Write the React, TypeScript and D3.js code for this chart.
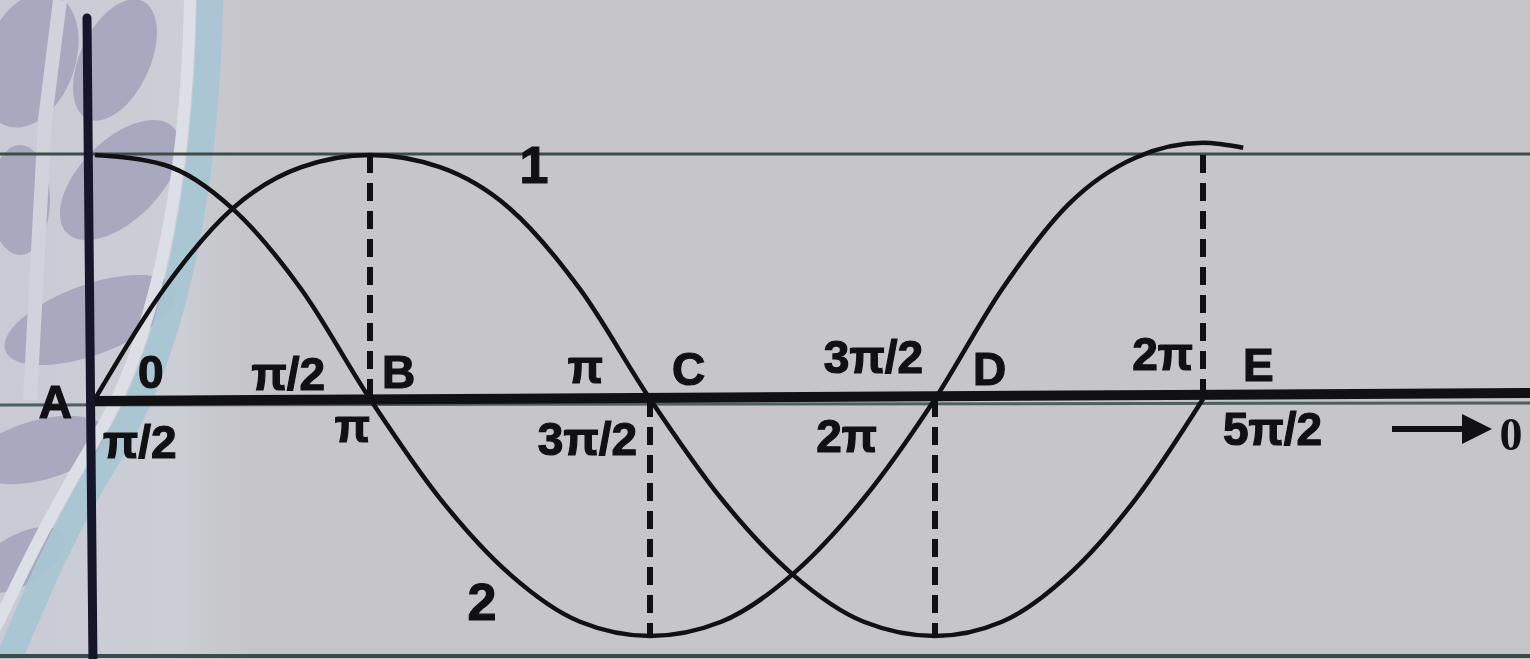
import React from "react";
import * as d3 from "d3";

// ---- data ----
// phase measured in quarter periods (0 = A, 1 = B, 2 = C, 3 = D, 4 = E)
const pointNames = ["A", "B", "C", "D", "E"];
const upperLabels = ["0", "π/2", "π", "3π/2", "2π"];
const lowerLabels = ["π/2", "π", "3π/2", "2π", "5π/2"];

const curve1T = [0, 0.25, 0.5, 0.75, 1, 1.25, 1.5, 1.75, 2, 2.25, 2.5, 2.75, 3, 3.25, 3.5, 3.75, 4];
const curve1V = [0, 0.45, 0.78, 0.95, 1, 0.95, 0.78, 0.45, 0, -0.42, -0.74, -0.94, -1, -0.94, -0.74, -0.42, 0];

const curve2T = [0, 0.25, 0.5, 0.75, 1, 1.25, 1.5, 1.75, 2, 2.25, 2.5, 2.75, 3, 3.25, 3.5, 3.75, 4, 4.15];
const curve2V = [1, 0.96, 0.78, 0.45, 0, -0.42, -0.74, -0.94, -1, -0.94, -0.74, -0.42, 0, 0.45, 0.8, 0.99, 1.05, 1.03];

// dashed projections: [phase, from value, to value]
const dashT = [1, 2, 3, 4];
const dashFrom = [1, 0, 0, 1.0];
const dashTo = [0, -1, -1, 0];

// ---- layout ----
const W = 1530;
const H = 659;
const x = d3.scaleLinear().domain([0, 1, 2, 3, 4]).range([95, 370, 650, 935, 1203]);
const y = d3.scaleLinear().domain([-1, 0, 1]).range([636, 399, 155]);

const upperDx = [43, -45, -47, -12, -10];
const upperAnchor = ["start", "end", "end", "end", "end"];
const upperBase = [388, 390, 383, 373, 370];
const nameDx = [-23, 12, 22, 38, 40];
const nameAnchor = ["end", "start", "start", "start", "start"];
const nameBase = [418, 388, 385, 385, 381];
const lowerDx = [8, 0, -13, -58, 20];
const lowerAnchor = ["start", "end", "end", "end", "start"];
const lowerBase = [458, 442, 455, 452, 445];

const line = d3
  .line<[number, number]>()
  .x((d) => x(d[0]))
  .y((d) => y(d[1]))
  .curve(d3.curveMonotoneX);

const FONT = "'Liberation Sans', Arial, sans-serif";

export default function App() {
  const c1 = curve1T.map((t, i) => [t, curve1V[i]] as [number, number]);
  const c2 = curve2T.map((t, i) => [t, curve2V[i]] as [number, number]);
  const ink = "#111114";

  return (
    <svg
      width={W}
      height={H}
      viewBox={`0 0 ${W} ${H}`}
      style={{ position: "absolute", left: 0, top: 0, display: "block" }}
    >
      <defs>
        <linearGradient id="leftFade" x1="0" x2="1" y1="0" y2="0">
          <stop offset="0" stopColor="#cacad6" stopOpacity={1} />
          <stop offset="0.7" stopColor="#cdd0d8" stopOpacity={0.8} />
          <stop offset="1" stopColor="#c6c6c9" stopOpacity={0} />
        </linearGradient>
      </defs>
      <rect x={0} y={0} width={W} height={H} fill="#c6c6c9" />
      {/* left decoration: leaves and arcs */}
      <rect x={0} y={0} width={260} height={H} fill="url(#leftFade)" />
      <g fill="#a4a4bc" opacity={0.9}>
        <ellipse cx={30} cy={60} rx={45} ry={70} transform="rotate(20 30 60)" />
        <ellipse cx={115} cy={60} rx={35} ry={65} transform="rotate(25 115 60)" />
        <ellipse cx={20} cy={200} rx={30} ry={55} />
        <ellipse cx={120} cy={180} rx={40} ry={75} transform="rotate(45 120 180)" />
        <ellipse cx={90} cy={320} rx={35} ry={90} transform="rotate(70 90 320)" />
        <ellipse cx={40} cy={450} rx={30} ry={70} transform="rotate(75 40 450)" />
        <ellipse cx={20} cy={560} rx={25} ry={50} transform="rotate(60 20 560)" />
      </g>
      <path d="M 60 0 L 45 120 L 30 400" stroke="#d2d2dc" strokeWidth={14} fill="none" />
      <path
        d="M 190 0 C 186 200 150 350 95 440 S 10 600 -20 659"
        stroke="#dcdfe6"
        strokeWidth={12}
        fill="none"
      />
      <path
        d="M 210 0 C 206 210 168 360 112 450 S 30 610 0 680"
        stroke="#a7c5d3"
        strokeWidth={26}
        fill="none"
        opacity={0.9}
      />
      {/* page rules */}
      <line x1={0} x2={W} y1={154} y2={154} stroke="#3e4c49" strokeWidth={3} />
      <line x1={0} x2={W} y1={405} y2={403} stroke="#4f5f5b" strokeWidth={3} />
      <line x1={0} x2={W} y1={656} y2={656} stroke="#3e4c49" strokeWidth={4} />
      {/* x axis */}
      <line x1={x(0)} x2={W} y1={y(0) + 2} y2={y(0) - 6} stroke={ink} strokeWidth={10} />
      {/* y axis */}
      <line x1={87} y1={18} x2={93} y2={H + 5} stroke="#16162a" strokeWidth={9} strokeLinecap="round" />
      {/* dashed projections */}
      {dashT.map((t, i) => (
        <line
          key={"d" + i}
          x1={x(t)}
          x2={x(t)}
          y1={y(dashFrom[i])}
          y2={y(dashTo[i])}
          stroke={ink}
          strokeWidth={6}
          strokeDasharray="18 10"
        />
      ))}
      {/* curves */}
      <path d={line(c1) || ""} fill="none" stroke={ink} strokeWidth={4.5} />
      <path d={line(c2) || ""} fill="none" stroke={ink} strokeWidth={4.5} />
      {/* labels */}
      <g fontFamily={FONT} fontWeight="bold" fontSize={46} fill={ink} stroke={ink} strokeWidth={1.2}>
        {upperLabels.map((s, i) => (
          <text key={"u" + i} x={x(i) + upperDx[i]} y={upperBase[i]} textAnchor={upperAnchor[i]}>
            {s}
          </text>
        ))}
        {pointNames.map((s, i) => (
          <text key={"n" + i} x={x(i) + nameDx[i]} y={nameBase[i]} textAnchor={nameAnchor[i]}>
            {s}
          </text>
        ))}
        {lowerLabels.map((s, i) => (
          <text key={"l" + i} x={x(i) + lowerDx[i]} y={lowerBase[i]} textAnchor={lowerAnchor[i]}>
            {s}
          </text>
        ))}
        <text x={534} y={183} textAnchor="middle" fontSize={52}>
          1
        </text>
        <text x={482} y={620} textAnchor="middle" fontSize={52}>
          2
        </text>
      </g>
      {/* arrow to 0 */}
      <line x1={1392} x2={1470} y1={429} y2={429} stroke={ink} strokeWidth={6} />
      <path d="M 1462 414 L 1492 429 L 1462 444 Z" fill={ink} />
      <text
        x={1511}
        y={450}
        textAnchor="middle"
        fontFamily="'Liberation Serif', 'Times New Roman', serif"
        fontWeight="bold"
        fontSize={46}
        fill={ink}
      >
        0
      </text>
    </svg>
  );
}
